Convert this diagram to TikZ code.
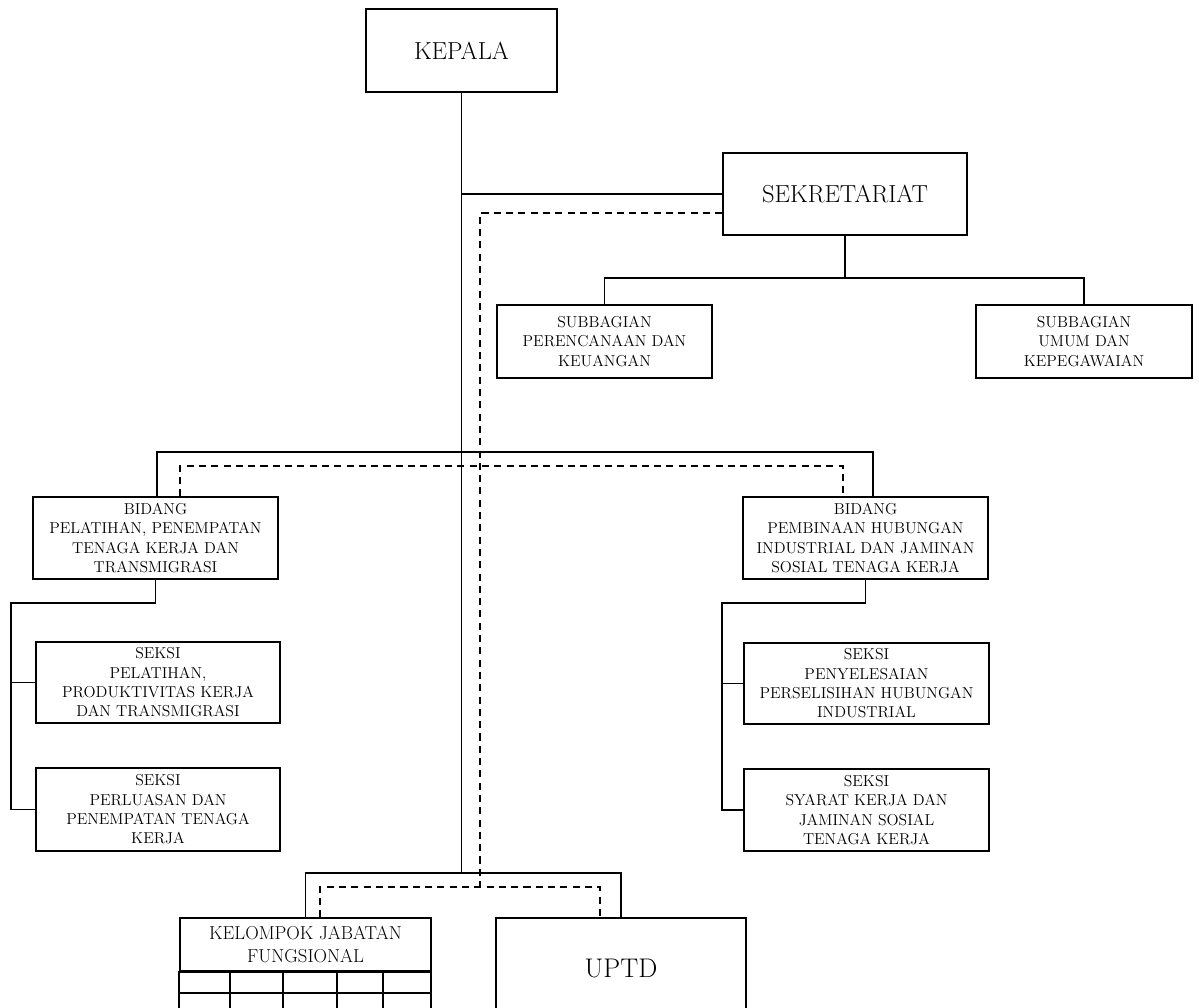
\documentclass[tikz,border=0pt]{standalone}
\usepackage{tikz}
\usetikzlibrary{positioning, calc}

\tikzset{
  box/.style 2 args={draw, line width=1.3pt, minimum width=#1*0.03cm, minimum height=#2*0.03cm, inner sep=0pt, align=center},
  small/.style={font=\fontsize{13.5}{16.5}\selectfont},
  big/.style={font=\fontsize{21}{24}\selectfont},
  link/.style={line width=1.2pt},
  dlink/.style={line width=1.2pt, dash pattern=on 6pt off 4.5pt}
}

\begin{document}
\begin{tikzpicture}[x=0.03cm, y=-0.03cm]
        \useasboundingbox (0,0) rectangle (1199,1008);
        \clip (0,0) rectangle (1199,1008);

        % Top
        \node[box={191}{83}, big] (kepala) at (461.5,50.5) {KEPALA};
        \node[box={244}{82}, big] (sekr) at (845,194) {SEKRETARIAT};
        \node[box={215}{73}, small] (subl) at (604.5,341.5) {SUBBAGIAN\\PERENCANAAN DAN\\KEUANGAN};
        \node[box={216}{73}, small] (subr) at (1084,341.5) {SUBBAGIAN\\UMUM DAN\\KEPEGAWAIAN};

        % Bidang
        \node[box={245}{82}, small] (bidl) at (155.5,538) {BIDANG\\PELATIHAN, PENEMPATAN\\TENAGA KERJA DAN\\TRANSMIGRASI};
        \node[box={245}{82}, small] (bidr) at (865.5,538) {BIDANG\\PEMBINAAN HUBUNGAN\\INDUSTRIAL DAN JAMINAN\\SOSIAL TENAGA KERJA};

        % Seksi
        \node[box={244}{81}, small] (sekl1) at (158,682.5) {SEKSI\\PELATIHAN,\\PRODUKTIVITAS KERJA\\DAN TRANSMIGRASI};
        \node[box={244}{83}, small] (sekl2) at (158,809.5) {SEKSI\\PERLUASAN DAN\\PENEMPATAN TENAGA\\KERJA};
        \node[box={245}{81}, small] (sekr1) at (866.5,683.5) {SEKSI\\PENYELESAIAN\\PERSELISIHAN HUBUNGAN\\INDUSTRIAL};
        \node[box={245}{82}, small] (sekr2) at (866.5,810) {SEKSI\\SYARAT KERJA DAN\\JAMINAN SOSIAL\\TENAGA KERJA};

        % Bottom
        \node[box={251}{53}, font=\fontsize{16}{19}\selectfont] (kjf) at (305.5,944.5) {KELOMPOK JABATAN\\FUNGSIONAL};
        \node[box={250}{102}, font=\fontsize{23}{26}\selectfont] (uptd) at (621,969) {UPTD};
        \draw[line width=1.3pt] (kjf.south west) rectangle (431,1040);
        \draw[line width=1.3pt] (180,993) -- (431,993);
        \foreach \gx in {230,283,337,383}
            \draw[line width=1.3pt] (\gx,971) -- (\gx,1040);

        % Coordinates
        \coordinate (sj) at (845,278);
        \coordinate (dtop) at (480,213);
        \coordinate (dbot) at (480,887);
        \coordinate (bl) at (157,452);
        \coordinate (br) at (873,452);
        \coordinate (dl) at (180,466);
        \coordinate (dr) at (843,466);
        \coordinate (ls) at (11,603);
        \coordinate (rs) at (722,603);
        \coordinate (kb) at (461.5,873);
        \coordinate (kdl) at (320,887);
        \coordinate (kdr) at (600,887);

        % Solid lines
        \draw[link] (kepala.south) -- (kb);
        \draw[link] (sekr.west) -- (sekr.west -| kepala.south);
        \draw[link] (sekr.south) -- (sj);
        \draw[link] (subl.north) |- (sj) -| (subr.north);
        \draw[link] (bidl.north -| bl) -- (bl) -- (br) -- (bidr.north -| br);
        \draw[link] (bidl.south) |- (ls) -- (sekl2.west -| ls) -- (sekl2.west);
        \draw[link] (sekl1.west -| ls) -- (sekl1.west);
        \draw[link] (bidr.south) |- (rs) -- (sekr2.west -| rs) -- (sekr2.west);
        \draw[link] (sekr1.west -| rs) -- (sekr1.west);
        \draw[link] (kjf.north) |- (kb) -| (uptd.north);

        % Dashed lines
        \draw[dlink] (sekr.west |- dtop) -- (dtop) -- (dbot);
        \draw[dlink] (bidl.north -| dl) -- (dl) -- (dr) -- (bidr.north -| dr);
        \draw[dlink] (kjf.north -| kdl) -- (kdl) -- (kdr) -- (uptd.north -| kdr);
    \end{tikzpicture}
\end{document}
